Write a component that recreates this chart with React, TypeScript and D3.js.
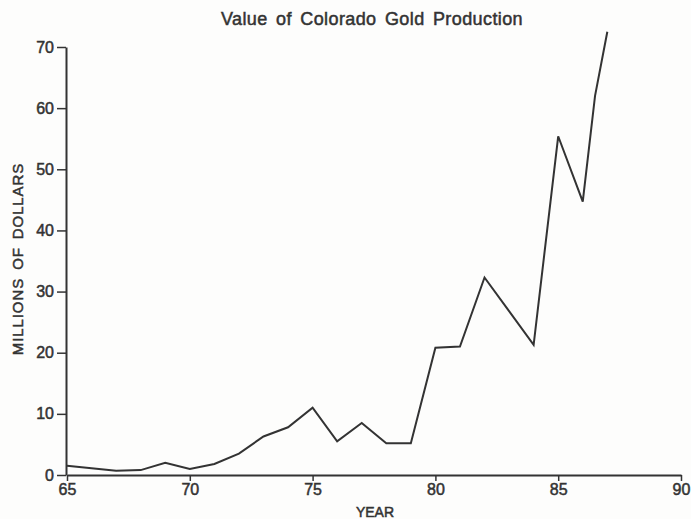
import React, { useEffect, useRef } from "react";
import * as d3 from "d3";

// years (two-digit) and value in millions of dollars
const years = [65, 66, 67, 68, 69, 70, 71, 72, 73, 74, 75, 76, 77, 78, 79, 80, 81, 82, 83, 84, 85, 86, 86.5, 87];
const values = [1.5, 1.1, 0.7, 0.8, 2.0, 1.0, 1.8, 3.5, 6.3, 7.8, 11.0, 5.5, 8.5, 5.2, 5.2, 20.8, 21.0, 32.3, 26.8, 21.3, 55.4, 44.7, 62.0, 72.5];
const xTicks = [65, 70, 75, 80, 85, 90];
const yTicks = [0, 10, 20, 30, 40, 50, 60, 70];

const W = 691;
const H = 519;
const INK = "#333";
const FONT = "'Liberation Sans', Arial, sans-serif";

// slightly heavier than regular, like the old typeset labels
function heavy(sel: any, size: number) {
    sel.attr("font-family", FONT)
        .attr("font-size", size)
        .attr("fill", INK)
        .attr("stroke", INK)
        .attr("stroke-width", 0.5);
}

export default function App() {
    const svgRef = useRef<SVGSVGElement | null>(null);

    useEffect(() => {
        if (!svgRef.current) return;
        const svg = d3.select(svgRef.current);
        svg.selectAll("*").remove();

        const margin = { top: 47, right: 10, bottom: 44, left: 66 };
        const x = d3.scaleLinear().domain([65, 90]).range([margin.left + 1, W - margin.right]);
        const y = d3.scaleLinear().domain([0, 70]).range([H - margin.bottom, margin.top]);

        svg.append("rect").attr("width", W).attr("height", H).attr("fill", "#fdfdfc");

        // title
        svg.append("text")
            .attr("x", 372)
            .attr("y", 25)
            .attr("text-anchor", "middle")
            .attr("letter-spacing", 0.4)
            .attr("word-spacing", 3)
            .call(heavy, 18)
            .text("Value of Colorado Gold Production");

        // x axis
        const xAxis = svg.append("g")
            .attr("transform", `translate(0,${y(0)})`)
            .call(d3.axisBottom(x).tickValues(xTicks).tickSize(6).tickSizeOuter(0).tickPadding(3));
        xAxis.select(".domain").attr("stroke", INK).attr("stroke-width", 2);
        xAxis.selectAll(".tick line").attr("stroke", INK).attr("stroke-width", 1.5);
        xAxis.selectAll("text").call(heavy, 16);

        // y axis
        const yAxis = svg.append("g")
            .attr("transform", `translate(${margin.left},0)`)
            .call(d3.axisLeft(y).tickValues(yTicks).tickSize(9).tickSizeOuter(0).tickPadding(3));
        yAxis.select(".domain").attr("stroke", INK).attr("stroke-width", 2);
        yAxis.selectAll(".tick line").attr("stroke", INK).attr("stroke-width", 1.5);
        yAxis.selectAll("text").call(heavy, 16);

        // axis titles
        svg.append("text")
            .attr("x", 375)
            .attr("y", 517)
            .attr("text-anchor", "middle")
            .call(heavy, 14)
            .text("YEAR");

        svg.append("text")
            .attr("transform", `translate(23,${y(35) - 2}) rotate(-90)`)
            .attr("text-anchor", "middle")
            .attr("letter-spacing", 0.9)
            .attr("word-spacing", 3)
            .call(heavy, 15)
            .text("MILLIONS OF DOLLARS");

        // line
        const pts = years.map((yr, i) => ({ yr, v: values[i] }));
        const line = d3.line<{ yr: number; v: number }>()
            .x((d) => x(d.yr))
            .y((d) => y(d.v));
        svg.append("path")
            .datum(pts)
            .attr("fill", "none")
            .attr("stroke", INK)
            .attr("stroke-width", 2)
            .attr("stroke-linejoin", "miter")
            .attr("d", line);
    }, []);

    return (
        <div style={{ position: "absolute", left: 0, top: 0 }}>
            <svg ref={svgRef} width={W} height={H} style={{ display: "block" }} />
        </div>
    );
}
